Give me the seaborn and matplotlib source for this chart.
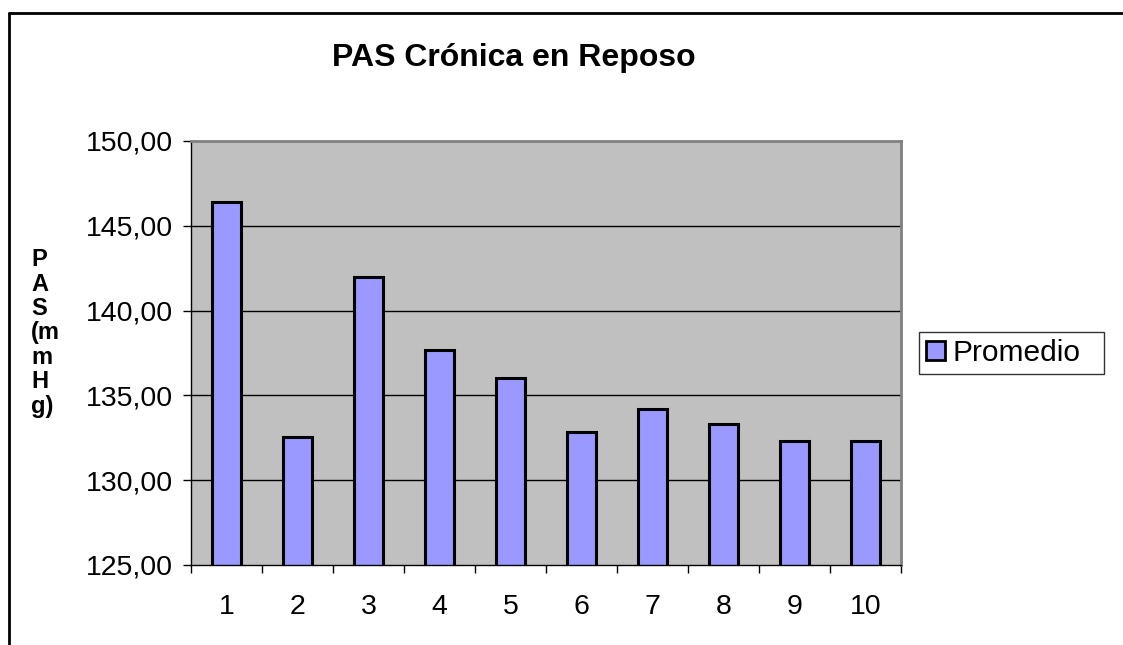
import matplotlib
matplotlib.use("Agg")
import matplotlib.pyplot as plt
import seaborn as sns
from matplotlib.lines import Line2D

# data
categories = ["1", "2", "3", "4", "5", "6", "7", "8", "9", "10"]
promedio = [146.4, 132.55, 142.0, 137.7, 136.0, 132.85, 134.2, 133.3, 132.3, 132.3]
y_ticks = [125, 130, 135, 140, 145, 150]
y_tick_labels = ["125,00", "130,00", "135,00", "140,00", "145,00", "150,00"]

W, H = 1123, 645

sns.set_theme(style="white")
plt.rcParams["font.family"] = ["Liberation Sans", "DejaVu Sans"]
plt.rcParams["text.color"] = "black"
plt.rcParams["xtick.color"] = "black"
plt.rcParams["ytick.color"] = "black"

fig = plt.figure(figsize=(W / 100, H / 100), dpi=100)
ax = fig.add_axes([191 / W, 1 - 565 / H, (901 - 191) / W, (565 - 141) / H])
ax.set_facecolor("#C0C0C0")

sns.barplot(x=categories, y=promedio, color="#9999FF", edgecolor="black",
            linewidth=2.2, width=0.42, saturation=1, ax=ax, label="Promedio")

ax.set_ylim(125, 150)
ax.set_xlim(-0.5, len(categories) - 0.5)
ax.set_yticks(y_ticks)
ax.set_yticklabels(y_tick_labels, fontsize=20.5)
ax.set_xticks(range(len(categories)))
ax.set_xticklabels(categories, fontsize=20.5)
ax.set_xticks([i - 0.5 for i in range(len(categories) + 1)], minor=True)
ax.tick_params(axis="x", which="major", length=0, pad=21)
ax.tick_params(axis="x", which="minor", length=6, width=1, direction="out", bottom=True)
ax.tick_params(axis="y", which="major", length=6, width=1, direction="out", left=True, pad=7)
ax.set_xlabel("")
ax.set_ylabel("")

for v in y_ticks[1:-1]:
    ax.axhline(v, color="black", linewidth=1, zorder=0.5)
ax.set_axisbelow(True)

ax.spines["left"].set_color("black")
ax.spines["left"].set_linewidth(1)
ax.spines["bottom"].set_color("black")
ax.spines["bottom"].set_linewidth(1)
for s in ("top", "right"):
    ax.spines[s].set_color("#808080")
    ax.spines[s].set_linewidth(2)
    ax.spines[s].set_visible(True)

fig.text(514 / W, 1 - 58 / H, "PAS Crónica en Reposo", fontsize=23,
         fontweight="bold", ha="center", va="center")
fig.text(31 / W, 1 - 333 / H, "P\nA\nS\n(m\nm\nH\ng)", fontsize=17,
         fontweight="bold", ha="left", va="center", multialignment="left",
         linespacing=1.08)

leg = ax.legend(loc="center", bbox_to_anchor=(919 / W, 1 - 376 / H, 185 / W, 46 / H),
                bbox_transform=fig.transFigure, mode="expand", borderaxespad=0,
                fontsize=21.5, frameon=True, fancybox=False, handlelength=0.62,
                handleheight=0.62, handletextpad=0.25, borderpad=0.25)
leg.get_frame().set_edgecolor("black")
leg.get_frame().set_linewidth(1)
for p in leg.get_patches():
    p.set_linewidth(2)

# outer frame (top and left edges visible in the crop)
fig.add_artist(Line2D([9 / W, 9 / W], [0, 1 - 13 / H], transform=fig.transFigure,
                      color="black", linewidth=2))
fig.add_artist(Line2D([9 / W, 1], [1 - 13 / H, 1 - 13 / H], transform=fig.transFigure,
                      color="black", linewidth=2))

fig.savefig("out.png", dpi=100)
